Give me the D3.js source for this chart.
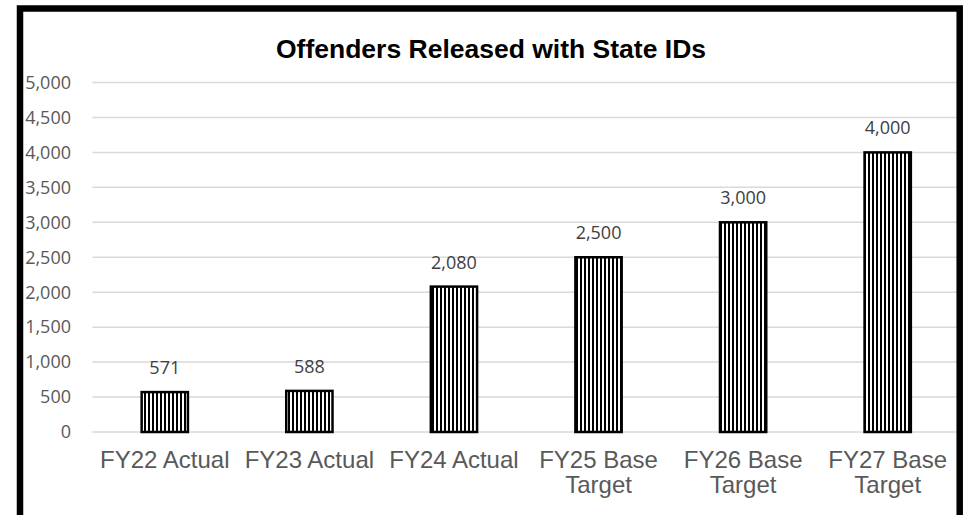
<!DOCTYPE html>
<html>
<head>
<meta charset="utf-8">
<script src="https://cdn.jsdelivr.net/npm/d3@7"></script>
<style>
  html, body { margin: 0; padding: 0; background: #fff; }
  .tick-label { font-family: "Open Sans", sans-serif; font-size: 18px; fill: #595959; }
  .data-label { font-family: "Open Sans", sans-serif; font-size: 18px; fill: #404040; }
  .cat-label { font-family: "Liberation Sans", Arial, sans-serif; font-size: 24px; fill: #595959; }
  .title { font-family: "Liberation Sans", Arial, sans-serif; font-size: 26.5px; font-weight: bold; fill: #000; }
</style>
</head>
<body>
<div id="chart"></div>
<script>
// categories (second line after the break)
var CATEGORIES = [
  ['FY22 Actual'],
  ['FY23 Actual'],
  ['FY24 Actual'],
  ['FY25 Base', 'Target'],
  ['FY26 Base', 'Target'],
  ['FY27 Base', 'Target']
];
var VALUES = [571, 588, 2080, 2500, 3000, 4000];
var Y_TICKS = [0, 500, 1000, 1500, 2000, 2500, 3000, 3500, 4000, 4500, 5000];
var TITLE = 'Offenders Released with State IDs';

var W = 967, H = 515;
var plot = { left: 92.5, right: 960, top: 82.5, bottom: 432 };

var svg = d3.select('#chart')
  .append('svg')
    .attr('width', W)
    .attr('height', H);

// stripe pattern for bars
var defs = svg.append('defs');
var pat = defs.append('pattern')
  .attr('id', 'stripes')
  .attr('patternUnits', 'userSpaceOnUse')
  .attr('width', 4)
  .attr('height', 10);
pat.append('rect').attr('width', 4).attr('height', 10).attr('fill', '#fff');
pat.append('rect').attr('x', 0).attr('width', 2).attr('height', 10).attr('fill', '#000');

var x = d3.scaleBand()
  .domain(d3.range(CATEGORIES.length))
  .range([plot.left, plot.right])
  .paddingInner(0.68)
  .paddingOuter(0.34);

var y = d3.scaleLinear()
  .domain([0, 5000])
  .range([plot.bottom, plot.top]);

// gridlines
svg.append('g')
  .selectAll('line')
  .data(Y_TICKS)
  .enter().append('line')
    .attr('x1', plot.left)
    .attr('x2', plot.right)
    .attr('y1', function(d) { return y(d); })
    .attr('y2', function(d) { return y(d); })
    .attr('stroke', '#d9d9d9')
    .attr('stroke-width', 1.5);

// y tick labels
svg.append('g')
  .selectAll('text')
  .data(Y_TICKS)
  .enter().append('text')
    .attr('class', 'tick-label')
    .attr('x', 71)
    .attr('y', function(d) { return y(d); })
    .attr('dy', '0.35em')
    .attr('text-anchor', 'end')
    .text(function(d) { return d3.format(',')(d); });

// bars
svg.append('g')
  .selectAll('rect')
  .data(VALUES)
  .enter().append('rect')
    .attr('x', function(d, i) { return x(i); })
    .attr('y', function(d) { return y(d); })
    .attr('width', x.bandwidth())
    .attr('height', function(d) { return y(0) - y(d); })
    .attr('fill', 'url(#stripes)')
    .attr('stroke', '#000')
    .attr('stroke-width', 2.5);

// data labels
svg.append('g')
  .selectAll('text')
  .data(VALUES)
  .enter().append('text')
    .attr('class', 'data-label')
    .attr('x', function(d, i) { return x(i) + x.bandwidth() / 2; })
    .attr('y', function(d) { return y(d) - 18; })
    .attr('text-anchor', 'middle')
    .text(function(d) { return d3.format(',')(d); });

// category labels
var cat = svg.append('g')
  .selectAll('text')
  .data(CATEGORIES)
  .enter().append('text')
    .attr('class', 'cat-label')
    .attr('text-anchor', 'middle')
    .attr('x', function(d, i) { return x(i) + x.bandwidth() / 2; })
    .attr('y', 468);
cat.selectAll('tspan')
  .data(function(d) { return d; })
  .enter().append('tspan')
    .attr('x', function() { return d3.select(this.parentNode).attr('x'); })
    .attr('dy', function(d, i) { return i === 0 ? 0 : 25; })
    .text(function(d) { return d; });

// title
svg.append('text')
  .attr('class', 'title')
  .attr('x', 491)
  .attr('y', 58)
  .attr('text-anchor', 'middle')
  .text(TITLE);

// outer frame
svg.append('rect')
  .attr('x', 20)
  .attr('y', 8.5)
  .attr('width', 939.7)
  .attr('height', 600)
  .attr('fill', 'none')
  .attr('stroke', '#000')
  .attr('stroke-width', 6.5);
</script>
</body>
</html>
